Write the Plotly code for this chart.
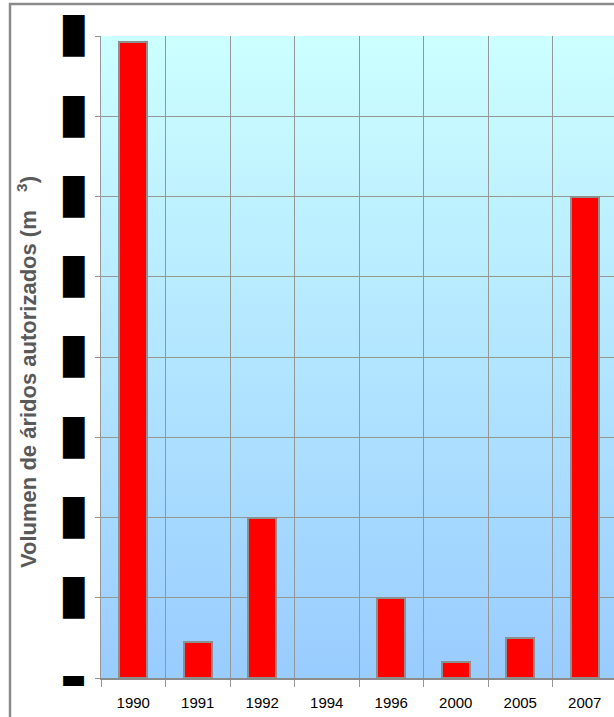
import base64
import plotly.graph_objects as go

# Authorised aggregate volume per year (m3)
years = ["1990", "1991", "1992", "1994", "1996", "2000", "2005", "2007"]
volumes = [79300, 4500, 20000, 0, 10000, 2000, 5000, 60000]

# y-axis ticks (labels are masked with solid blocks)
y_tickvals = [0, 10000, 20000, 30000, 40000, 50000, 60000, 70000, 80000]
y_ticktext = ["▬", "█", "█", "█", "█", "█", "█", "█", "█"]

W, H = 614, 717
ML, MR, MT, MB = 101, 0, 36, 39
plot_w = W - ML - MR
plot_h = H - MT - MB


def px_to_paper_x(px):
    return (px - ML) / plot_w


def px_to_paper_y(py):
    return (H - MB - py) / plot_h


# Vertical cyan-to-blue gradient for the plotting area
svg = (
    '<svg xmlns="http://www.w3.org/2000/svg" width="10" height="100" '
    'viewBox="0 0 10 100" preserveAspectRatio="none">'
    '<defs><linearGradient id="g" x1="0" y1="0" x2="0" y2="1">'
    '<stop offset="0" stop-color="#CCFFFF"/>'
    '<stop offset="1" stop-color="#99CCFF"/>'
    '</linearGradient></defs>'
    '<rect x="0" y="0" width="10" height="100" fill="url(#g)"/></svg>'
)
gradient_src = "data:image/svg+xml;base64," + base64.b64encode(svg.encode()).decode()

grid = "#969696"

# no outline on empty years
outline_widths = [2 if v > 0 else 0 for v in volumes]

fig = go.Figure(
    go.Bar(
        x=years,
        y=volumes,
        width=0.43,
        marker=dict(color="#FF0000", line=dict(color="#8f8f8f", width=outline_widths)),
        hoverinfo="x+y",
    )
)

fig.update_layout(
    width=W,
    height=H,
    margin=dict(l=ML, r=MR, t=MT, b=MB),
    paper_bgcolor="white",
    plot_bgcolor="rgba(0,0,0,0)",
    showlegend=False,
    bargap=0,
    images=[
        dict(
            source=gradient_src,
            xref="paper",
            yref="paper",
            x=0,
            y=1,
            sizex=1,
            sizey=1,
            xanchor="left",
            yanchor="top",
            sizing="stretch",
            layer="below",
        )
    ],
    shapes=[
        dict(
            type="rect",
            xref="paper",
            yref="paper",
            x0=px_to_paper_x(10),
            x1=px_to_paper_x(W + 20),
            y0=px_to_paper_y(H + 20),
            y1=px_to_paper_y(4),
            line=dict(color="#8a8a8a", width=2.5),
            fillcolor="rgba(0,0,0,0)",
            layer="below",
        )
    ],
    annotations=[
        dict(
            text="Volumen de áridos autorizados (m&nbsp;&nbsp;&nbsp;<sup>3</sup>)",
            textangle=-90,
            xref="paper",
            yref="paper",
            x=px_to_paper_x(27),
            y=px_to_paper_y(372),
            xanchor="center",
            yanchor="middle",
            showarrow=False,
            font=dict(family="Liberation Sans, Arial", size=22, color="#595959", weight="bold"),
        )
    ],
)

fig.update_xaxes(
    type="category",
    categoryorder="array",
    categoryarray=years,
    range=[-0.5, 7.5 - 3 / 64.5],
    tickson="boundaries",
    ticks="outside",
    ticklen=7,
    tickcolor=grid,
    showgrid=True,
    gridcolor=grid,
    gridwidth=1,
    showline=True,
    linecolor="#8c8c8c",
    linewidth=2,
    ticklabelstandoff=10,
    tickfont=dict(family="Liberation Sans, Arial", size=15, color="black"),
    fixedrange=True,
)

fig.update_yaxes(
    range=[0, 80000],
    tickmode="array",
    tickvals=y_tickvals,
    ticktext=y_ticktext,
    ticks="outside",
    ticklen=5,
    tickcolor=grid,
    showgrid=True,
    gridcolor=grid,
    gridwidth=1,
    zeroline=False,
    showline=True,
    linecolor=grid,
    linewidth=1,
    ticklabelstandoff=4,
    tickfont=dict(family="DejaVu Sans Mono", size=35, color="black"),
    fixedrange=True,
)

fig.write_html("out.html")
